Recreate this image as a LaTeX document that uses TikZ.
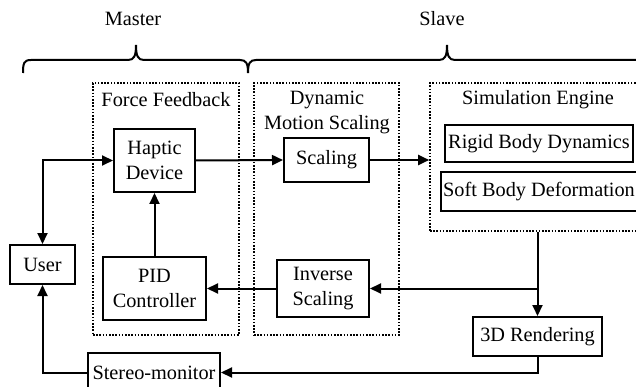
\documentclass[tikz,border=0pt]{standalone}
\usepackage{fontspec}
\setmainfont{Liberation Serif}
\usetikzlibrary{arrows.meta}
\begin{document}
\begin{tikzpicture}[x=1pt,y=-1pt,
  txt/.style={font=\fontsize{20.3}{24.5}\selectfont, align=center},
  box/.style={txt, draw, line width=2pt, inner sep=0pt},
  grp/.style={draw, line width=1.6pt, dash pattern=on 1.6pt off 1.6pt, inner sep=0pt},
  lbl/.style={txt, inner sep=0pt},
  tip/.tip={Triangle[length=11pt,width=10pt]},
  arr/.style={line width=2pt, -tip},
  darr/.style={line width=2pt, tip-tip},
  brc/.style={line width=2pt}
]
\useasboundingbox (0,0) rectangle (636,387);
\clip (0,0) rectangle (636,387);

% top labels
\node[lbl] (master) at (133,19) {Master};
\node[lbl] (slave) at (442,19) {Slave};

% braces
\draw[brc] (23,73) .. controls (23,63) and (24,60) .. (31,60) -- (128,60)
  .. controls (134,60) and (136,56) .. (136,45)
  .. controls (136,56) and (138,60) .. (144,60) -- (240,60)
  .. controls (246,60) and (248,63) .. (248,73);
\draw[brc] (248,73) .. controls (248,63) and (250,60) .. (256,60) -- (439,60)
  .. controls (445,60) and (447,56) .. (447,45)
  .. controls (447,56) and (449,60) .. (455,60) -- (650,60);

% group boxes
\node[grp, minimum width=146pt, minimum height=252pt] (ff) at (166,209) {};
\node[grp, minimum width=145pt, minimum height=252pt] (dms) at (326.5,209) {};
\node[grp, minimum width=216pt, minimum height=148pt] (sim) at (538,157) {};

\node[lbl] (fflbl) at (166,100) {Force Feedback};
\node[lbl] (dmslbl) at (327,112.5) {Dynamic\\Motion Scaling};
\node[lbl] (simlbl) at (538,100) {Simulation Engine};

% boxes
\node[box, minimum width=81pt, minimum height=63pt] (haptic) at (154.5,160.5) {Haptic\\Device};
\node[box, minimum width=85pt, minimum height=44pt] (scaling) at (326.5,160) {Scaling};
\node[box, minimum width=188pt, minimum height=37pt] (rigid) at (539,143.5) {Rigid Body Dynamics};
\node[box, minimum width=196pt, minimum height=39pt] (soft) at (539,191.5) {Soft Body Deformation};
\node[box, minimum width=65pt, minimum height=39pt] (user) at (42.5,264.5) {User};
\node[box, minimum width=103pt, minimum height=63pt] (pid) at (154.5,288.5) {PID\\Controller};
\node[box, minimum width=92pt, minimum height=57pt] (inverse) at (323,288.5) {Inverse\\Scaling};
\node[box, minimum width=129pt, minimum height=39pt] (render) at (537.5,336.5) {3D Rendering};
\node[box, minimum width=132pt, minimum height=39pt] (stereo) at (154,372.5) {Stereo-monitor};

% connectors
\draw[darr] (user.north) |- (haptic.west);
\draw[arr] (haptic.east) -- (scaling.west);
\draw[arr] (scaling.east) -- (scaling.east -| sim.west);
\draw[arr] (pid.north) -- (haptic.south);
\draw[arr] (render.north |- sim.south) -- (render.north);
\coordinate (branch) at (render.north |- inverse.east);
\draw[arr] (branch) -- (inverse.east);
\draw[arr] (inverse.west) -- (pid.east);
\draw[arr] (render.south) |- (stereo.east);
\draw[arr] (stereo.west) -| (user.south);
\end{tikzpicture}
\end{document}
